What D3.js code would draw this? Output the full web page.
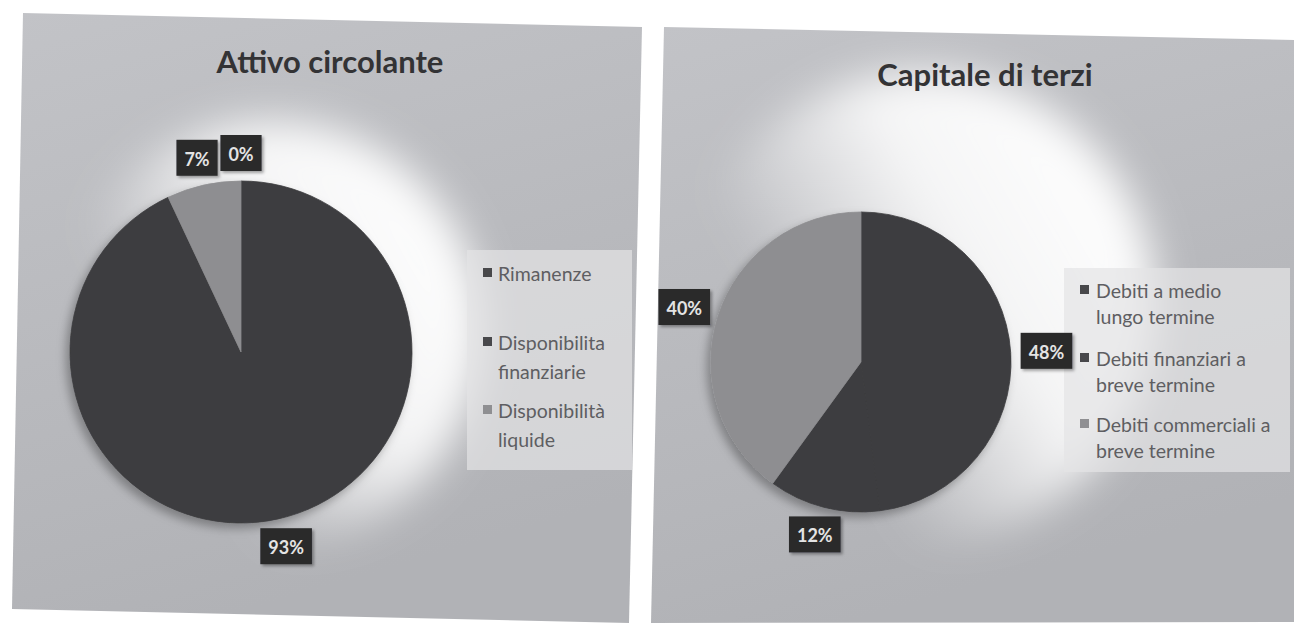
<!DOCTYPE html>
<html>
<head>
<meta charset="utf-8">
<script src="https://cdn.jsdelivr.net/npm/d3@7"></script>
<style>
  html, body { margin: 0; padding: 0; background: #ffffff; }
  svg { display: block; }
</style>
</head>
<body>
<svg id="chart" width="1294" height="629"></svg>
<script>
// ---- data ----
const titles = ["Attivo circolante", "Capitale di terzi"];

const categoriesA = ["Rimanenze", "Disponibilita finanziarie", "Disponibilità liquide"];
const valuesA = [0, 93, 7];
const legendLinesA = [["Rimanenze"], ["Disponibilita", "finanziarie"], ["Disponibilità", "liquide"]];

const categoriesB = ["Debiti a medio lungo termine", "Debiti finanziari a breve termine", "Debiti commerciali a breve termine"];
const valuesB = [48, 12, 40];
const legendLinesB = [["Debiti a medio", "lungo termine"], ["Debiti finanziari a", "breve termine"], ["Debiti commerciali a", "breve termine"]];

const sliceColors = ["#3c3c3f", "#3c3c3f", "#8e8e91"];
const legendSwatch = ["#48484b", "#48484b", "#8f8f92"];

// ---- layout of the two panels ----
const panels = [
  {
    outline: [[23, 13], [642, 27], [629, 623], [12, 609]],
    title: { x: 330, y: 73 },
    pie: { cx: 241, cy: 352, r: 171 },
    glow: { dx: 30, dy: -20, extra: 40 },
    legend: { x: 467, y: 250, w: 165, h: 220, sx: 483, tx: 498, rows: [273, 342, 410], lh: 29 },
    categories: categoriesA, values: valuesA, lines: legendLinesA
  },
  {
    outline: [[664, 27], [1294, 40], [1294, 622], [651, 623]],
    title: { x: 985, y: 86 },
    pie: { cx: 861, cy: 362, r: 150 },
    glow: { dx: 60, dy: -55, extra: 85 },
    legend: { x: 1064, y: 268, w: 226, h: 204, sx: 1080, tx: 1096, rows: [290, 358, 424], lh: 26 },
    categories: categoriesB, values: valuesB, lines: legendLinesB
  }
];

const svg = d3.select("#chart");
const defs = svg.append("defs");

// soft light falling onto the chart area
const blur = defs.append("filter").attr("id", "glowBlur")
  .attr("x", "-50%").attr("y", "-50%").attr("width", "200%").attr("height", "200%");
blur.append("feGaussianBlur").attr("stdDeviation", 20);

const lightGrad = defs.append("linearGradient").attr("id", "lightGrad")
  .attr("x1", "1").attr("y1", "0.3").attr("x2", "0.3").attr("y2", "0.7");
lightGrad.append("stop").attr("offset", "0").attr("stop-color", "#ffffff").attr("stop-opacity", 1);
lightGrad.append("stop").attr("offset", "0.5").attr("stop-color", "#ffffff").attr("stop-opacity", 0.85);
lightGrad.append("stop").attr("offset", "1").attr("stop-color", "#ffffff").attr("stop-opacity", 0);

const panelGrad = defs.append("linearGradient").attr("id", "panelGrad")
  .attr("x1", "0").attr("y1", "0").attr("x2", "0.3").attr("y2", "1");
panelGrad.append("stop").attr("offset", "0").attr("stop-color", "#c2c3c7");
panelGrad.append("stop").attr("offset", "1").attr("stop-color", "#b1b2b6");

const shadow = defs.append("filter").attr("id", "boxShadow")
  .attr("x", "-30%").attr("y", "-30%").attr("width", "160%").attr("height", "160%");
shadow.append("feDropShadow").attr("dx", 2).attr("dy", 2).attr("stdDeviation", 1.5)
  .attr("flood-color", "#000").attr("flood-opacity", 0.35);

const pieShadow = defs.append("filter").attr("id", "pieShadow")
  .attr("x", "-20%").attr("y", "-20%").attr("width", "140%").attr("height", "140%");
pieShadow.append("feDropShadow").attr("dx", -4).attr("dy", 5).attr("stdDeviation", 5)
  .attr("flood-color", "#000").attr("flood-opacity", 0.3);

const pieLayout = d3.pie().sort(null).value(d => d);
const FONT = "Lato, 'Open Sans', sans-serif";

panels.forEach((p, i) => {
  const clipId = "panelClip" + i;
  defs.append("clipPath").attr("id", clipId)
    .append("polygon").attr("points", p.outline.map(d => d.join(",")).join(" "));

  const g = svg.append("g");
  g.append("polygon")
    .attr("points", p.outline.map(d => d.join(",")).join(" "))
    .attr("fill", "url(#panelGrad)");

  const inner = g.append("g").attr("clip-path", `url(#${clipId})`);

  // halo around the pie
  inner.append("circle")
    .attr("cx", p.pie.cx + p.glow.dx)
    .attr("cy", p.pie.cy + p.glow.dy)
    .attr("r", p.pie.r + p.glow.extra)
    .attr("fill", "url(#lightGrad)")
    .attr("filter", "url(#glowBlur)");

  // legend background
  inner.append("rect")
    .attr("x", p.legend.x).attr("y", p.legend.y)
    .attr("width", p.legend.w).attr("height", p.legend.h)
    .attr("fill", "#e4e4e6").attr("opacity", 0.7);

  // title
  g.append("text")
    .attr("x", p.title.x).attr("y", p.title.y)
    .attr("text-anchor", "middle")
    .attr("font-family", FONT)
    .attr("font-weight", 700)
    .attr("font-size", 31)
    .attr("fill", "#333335")
    .text(titles[i]);

  // pie slices
  const arcs = pieLayout(p.values);
  const arc = d3.arc().innerRadius(0).outerRadius(p.pie.r);
  const pieG = g.append("g")
    .attr("transform", `translate(${p.pie.cx},${p.pie.cy})`)
    .attr("filter", "url(#pieShadow)");
  pieG.selectAll("path")
    .data(arcs)
    .join("path")
    .attr("d", arc)
    .attr("fill", (d, k) => sliceColors[k])
    .attr("stroke", (d, k) => sliceColors[k])
    .attr("stroke-width", 0.8);

  // data labels outside the slice ends
  const labelG = g.append("g").attr("transform", `translate(${p.pie.cx},${p.pie.cy})`);
  const gap = 10;
  arcs.forEach((a, k) => {
    const mid = (a.startAngle + a.endAngle) / 2;
    const s = Math.sin(mid), c = Math.cos(mid);
    const lg = labelG.append("g");
    const t = lg.append("text")
      .attr("text-anchor", "middle")
      .attr("dominant-baseline", "central")
      .attr("font-family", FONT)
      .attr("font-weight", 700)
      .attr("font-size", 18)
      .attr("fill", "#e4e4e4")
      .text(d3.format(".0%")(a.value / 100));
    const w = t.node().getComputedTextLength() + 16;
    const h = 36;
    const bx = (p.pie.r + gap) * s + s * w / 2;
    const by = -(p.pie.r + gap) * c - c * h / 2;
    lg.insert("rect", "text")
      .attr("x", bx - w / 2).attr("y", by - h / 2)
      .attr("width", w).attr("height", h)
      .attr("fill", "#2a2a2c")
      .attr("filter", "url(#boxShadow)");
    t.attr("x", bx).attr("y", by + 1);
  });

  // legend
  const leg = g.append("g");
  p.lines.forEach((lines, k) => {
    const y0 = p.legend.rows[k];
    leg.append("rect")
      .attr("x", p.legend.sx).attr("y", y0 - 5)
      .attr("width", 9).attr("height", 9)
      .attr("fill", legendSwatch[k]);
    lines.forEach((ln, j) => {
      leg.append("text")
        .attr("x", p.legend.tx).attr("y", y0 + j * p.legend.lh)
        .attr("dominant-baseline", "central")
        .attr("font-family", FONT)
        .attr("font-size", 19.5)
        .attr("fill", "#5e5e62")
        .text(ln);
    });
  });
});
</script>
</body>
</html>
